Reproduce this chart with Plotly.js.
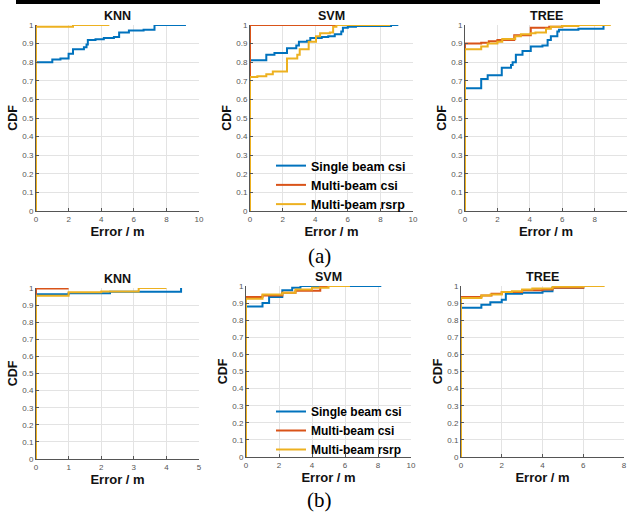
<!DOCTYPE html>
<html><head><meta charset="utf-8">
<script src="https://cdn.plot.ly/plotly-3.0.1.min.js"></script>
<style>html,body{margin:0;padding:0;background:#fff}#c{width:627px;height:513px}</style>
</head><body><div id="c"></div>
<script>
// ---------- labels ----------
const seriesNames = ["Single beam csi", "Multi-beam csi", "Multi-beam rsrp"];
const panelTitles = ["KNN", "SVM", "TREE", "KNN", "SVM", "TREE"];
const xRanges = [[0,10],[0,10],[0,10],[0,5],[0,10],[0,8]];
const yTickVals = [0,0.1,0.2,0.3,0.4,0.5,0.6,0.7,0.8,0.9,1];
const yTickText = ["0","0.1","0.2","0.3","0.4","0.5","0.6","0.7","0.8","0.9","1"];

// ---------- data: (a) ----------
const aKnnSingleX = [0,0,1.0,1.5,2.0,2.27,2.94,3.1,3.18,3.65,4.16,4.78,5.1,5.7,6.6,7.27,9.2];
const aKnnSingleY = [0,0.80,0.815,0.82,0.845,0.87,0.88,0.895,0.92,0.923,0.93,0.935,0.96,0.97,0.975,1.0,1.0];
const aKnnMultiX = [0,0];
const aKnnMultiY = [0,1.0];
const aKnnRsrpX = [0,0,2.27,4.5];
const aKnnRsrpY = [0,0.99,1.0,1.0];

const aSvmSingleX = [0,0,1.0,1.5,2.27,2.84,3.0,3.5,3.7,4.4,4.8,5.2,5.6,5.7,6.0,6.5,8.65,9.1];
const aSvmSingleY = [0,0.81,0.84,0.85,0.875,0.89,0.91,0.915,0.93,0.935,0.94,0.95,0.965,0.985,0.99,0.995,1.0,1.0];
const aSvmMultiX = [0,0,5.4];
const aSvmMultiY = [0,1.0,1.0];
const aSvmRsrpX = [0,0,0.45,1.0,1.4,2.27,2.9,3.05,3.6,4.05,4.3,4.9,5.1,5.3,8.6];
const aSvmRsrpY = [0,0.72,0.725,0.735,0.75,0.82,0.84,0.87,0.91,0.94,0.955,0.96,0.99,1.0,1.0];

const aTreeSingleX = [0,0,1.0,1.4,2.27,2.84,2.94,3.14,3.55,4.06,4.78,5.1,5.3,5.7,5.8,7.0,8.55,8.6];
const aTreeSingleY = [0,0.66,0.71,0.73,0.77,0.785,0.8,0.84,0.86,0.885,0.89,0.92,0.94,0.965,0.975,0.98,1.0,1.0];
const aTreeMultiX = [0,0,1.0,1.47,2.0,3.04,4.06,5.2,6.0,8.6];
const aTreeMultiY = [0,0.9,0.905,0.912,0.92,0.945,0.985,0.99,1.0,1.0];
const aTreeRsrpX = [0,0,1.0,1.4,2.0,2.3,3.1,3.45,4.06,4.35,5.0,5.3,6.0,7.0,9.0];
const aTreeRsrpY = [0,0.87,0.885,0.9,0.91,0.925,0.94,0.95,0.955,0.96,0.98,0.99,0.995,1.0,1.0];

// ---------- data: (b) ----------
const bKnnSingleX = [0,0,1.0,2.27,4.45,4.47];
const bKnnSingleY = [0,0.963,0.97,0.978,1.0,1.0];
const bKnnMultiX = [0,0,1.0];
const bKnnMultiY = [0,0.997,0.997];
const bKnnRsrpX = [0,0,1.0,2.0,3.15,4.0];
const bKnnRsrpY = [0,0.955,0.975,0.98,1.0,1.0];

const bSvmSingleX = [0,0,1.0,1.4,2.2,2.8,3.3,8.2];
const bSvmSingleY = [0,0.88,0.9,0.935,0.975,0.99,1.0,1.0];
const bSvmMultiX = [0,0,1.0,2.2,3.0,4.5,5.0];
const bSvmMultiY = [0,0.935,0.945,0.96,0.972,1.0,1.0];
const bSvmRsrpX = [0,0,1.0,2.2,3.0,4.0,5.0,6.3];
const bSvmRsrpY = [0,0.925,0.95,0.96,0.98,0.99,1.0,1.0];

const bTreeSingleX = [0,0,1.0,1.44,2.0,2.2,3.0,4.0,4.49,6.0,6.2];
const bTreeSingleY = [0,0.873,0.89,0.905,0.92,0.955,0.96,0.97,0.99,1.0,1.0];
const bTreeMultiX = [0,0,1.0,1.5,2.0,3.0,4.0,4.5,6.0,6.2];
const bTreeMultiY = [0,0.935,0.945,0.955,0.965,0.975,0.98,0.99,1.0,1.0];
const bTreeRsrpX = [0,0,1.0,1.45,2.0,2.5,3.0,3.5,4.5,6.0,7.05];
const bTreeRsrpY = [0,0.93,0.945,0.95,0.965,0.97,0.98,0.985,0.995,1.0,1.0];

const colors = ["#0072BD", "#D95319", "#EDB120"];

const panels = [
  [[aKnnSingleX,aKnnSingleY],[aKnnMultiX,aKnnMultiY],[aKnnRsrpX,aKnnRsrpY]],
  [[aSvmSingleX,aSvmSingleY],[aSvmMultiX,aSvmMultiY],[aSvmRsrpX,aSvmRsrpY]],
  [[aTreeSingleX,aTreeSingleY],[aTreeMultiX,aTreeMultiY],[aTreeRsrpX,aTreeRsrpY]],
  [[bKnnSingleX,bKnnSingleY],[bKnnMultiX,bKnnMultiY],[bKnnRsrpX,bKnnRsrpY]],
  [[bSvmSingleX,bSvmSingleY],[bSvmMultiX,bSvmMultiY],[bSvmRsrpX,bSvmRsrpY]],
  [[bTreeSingleX,bTreeSingleY],[bTreeMultiX,bTreeMultiY],[bTreeRsrpX,bTreeRsrpY]]
];

// ---------- layout geometry (pixels) ----------
const W = 627, H = 513;
const boxes = [ // [left, right, top, bottom]
  [36,199,25,211],[250,413,25,211],[465,627,25,211],
  [36,199,288,459],[246,411,286,457],[461,624,286,457]
];
const FONT = "Liberation Sans, Arial, sans-serif";

const traces = [];
const layout = {
  width: W, height: H, margin: {l:0,r:0,t:0,b:0},
  paper_bgcolor: "#fff", plot_bgcolor: "#fff",
  font: {family: FONT, color: "#000"},
  showlegend: true,
  annotations: [], shapes: []
};

panels.forEach((p, i) => {
  const n = i + 1;
  const xa = n === 1 ? "x" : "x" + n, ya = n === 1 ? "y" : "y" + n;
  const legendName = i === 1 ? "legend" : (i === 4 ? "legend2" : null);
  p.forEach((s, k) => {
    traces.push({
      type: "scatter", mode: "lines", x: s[0], y: s[1],
      xaxis: xa, yaxis: ya, name: seriesNames[k],
      line: {color: colors[k], width: 2, shape: "hv"},
      showlegend: legendName !== null,
      legend: legendName || "legend",
      hoverinfo: "skip"
    });
  });
  const b = boxes[i];
  const xr = xRanges[i];
  const step = xr[1] === 5 ? 1 : 2;
  const xt = []; for (let v = xr[0]; v <= xr[1] + 1e-9; v += step) xt.push(v);
  const axCommon = {
    showgrid: true, gridcolor: "#e3e3e3", gridwidth: 1,
    showline: true, linecolor: "#555", linewidth: 1,
    ticks: "inside", ticklen: 3, tickcolor: "#555",
    tickfont: {family: FONT, size: 8, color: "#555"},
    zeroline: false, fixedrange: true
  };
  layout["xaxis" + (n === 1 ? "" : n)] = Object.assign({}, axCommon, {
    domain: [b[0]/W, b[1]/W], anchor: ya, range: xr,
    tickvals: xt, ticktext: xt.map(String),
    title: {text: "Error / m", font: {family: FONT, size: 13, weight: "bold", color: "#111"}, standoff: 3}
  });
  layout["yaxis" + (n === 1 ? "" : n)] = Object.assign({}, axCommon, {
    domain: [1 - b[3]/H, 1 - b[2]/H], anchor: xa, range: [0, 1],
    tickvals: yTickVals, ticktext: yTickText,
    title: {text: "CDF", font: {family: FONT, size: 12.5, weight: "bold", color: "#111"}, standoff: 1}
  });
  layout.annotations.push({
    text: panelTitles[i], xref: "paper", yref: "paper",
    x: (b[0] + b[1]) / 2 / W, y: 1 - (b[2] - 9) / H,
    showarrow: false, xanchor: "center", yanchor: "middle",
    font: {family: FONT, size: 12.5, weight: "bold", color: "#111"}
  });
});

layout.legend = {
  x: 271/W, y: 1 - 151/H, xanchor: "left", yanchor: "top",
  bgcolor: "rgba(255,255,255,0)", borderwidth: 0,
  font: {family: FONT, size: 12.5, weight: "bold", color: "#000"},
  tracegroupgap: 0
};
layout.legend2 = {
  x: 271/W, y: 1 - 397/H, xanchor: "left", yanchor: "top",
  bgcolor: "rgba(255,255,255,0)", borderwidth: 0,
  font: {family: FONT, size: 12, weight: "bold", color: "#000"},
  tracegroupgap: 0
};

// black rule at top of the figure
layout.shapes.push({type: "rect", xref: "paper", yref: "paper",
  x0: 16/W, x1: 600/W, y0: 1 - 4/H, y1: 1, fillcolor: "#000", line: {width: 0}});

// captions
layout.annotations.push({text: "(a)", xref: "paper", yref: "paper", x: 319/W, y: 1 - 256/H,
  showarrow: false, xanchor: "center", yanchor: "middle",
  font: {family: "Liberation Serif, Times New Roman, serif", size: 21, color: "#000"}});
layout.annotations.push({text: "(b)", xref: "paper", yref: "paper", x: 319/W, y: 1 - 500/H,
  showarrow: false, xanchor: "center", yanchor: "middle",
  font: {family: "Liberation Serif, Times New Roman, serif", size: 21, color: "#000"}});

Plotly.newPlot("c", traces, layout, {displayModeBar: false, staticPlot: true});
</script></body></html>
